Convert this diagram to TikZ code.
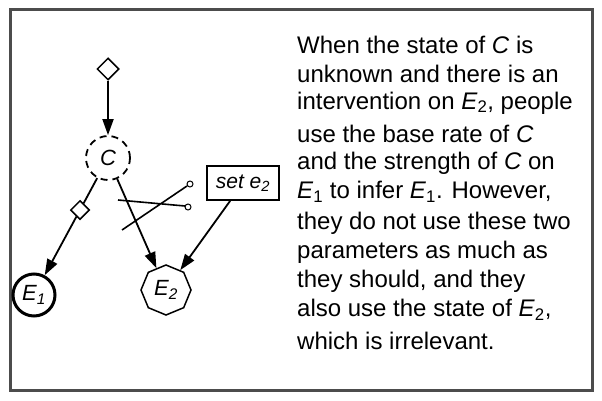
\documentclass[tikz,border=0pt]{standalone}
\usepackage{fontspec}
\setmainfont{Liberation Sans}
\usetikzlibrary{shapes.geometric,arrows.meta}
\begin{document}
\begin{tikzpicture}[x=1pt,y=-1pt,
  arr/.style={-{Triangle[length=16pt,width=11pt]},line width=1.8pt},
  dia/.style={draw,diamond,minimum size=22pt,inner sep=0pt,line width=1.5pt},
  lab/.style={font=\fontsize{22}{24}\selectfont\itshape},
  txt/.style={anchor=west,inner sep=0pt,font=\fontsize{24}{26}\selectfont}]
\useasboundingbox (0,0) rectangle (602,401);
\draw[line width=3pt,gray!60!black] (10,10) rectangle (592,390);
\node[dia] (top) at (108,69) {};
\node[draw,circle,dash pattern=on 7pt off 5pt,line width=1.8pt,minimum size=44pt,inner sep=0pt,lab] (C) at (108,158) {C};
\node[draw,circle,line width=3pt,minimum size=42pt,inner sep=0pt,lab] (E1) at (34,295) {E\textsubscript{1}};
\node[draw,regular polygon,regular polygon sides=8,shape border rotate=22.5,line width=1.5pt,minimum size=50pt,inner sep=0pt,lab] (E2) at (166,290) {E\textsubscript{2}};
\node[draw,line width=1.8pt,minimum width=72pt,minimum height=34pt,inner sep=2pt,lab,font=\fontsize{21}{24}\selectfont\itshape] (set) at (243,183) {set e\textsubscript{2}};
\node[dia,minimum size=19pt] (d2) at (80,210) {};
\draw[line width=1.8pt] (C) -- (d2);
\draw[arr] (top) -- (C);
\draw[arr] (d2) -- (E1);
\draw[arr] (C) -- (E2);
\draw[arr] (set) -- (E2);
% scissors
\coordinate (s1) at (118,200); \coordinate (s2) at (185,206);
\coordinate (s3) at (122,230); \coordinate (s4) at (187,186);
\draw[line width=1.6pt] (s1) -- (s2) (s3) -- (s4);
\draw[line width=1pt,fill=white] (188,207) circle (3pt) (190,184) circle (3pt);
% text
\foreach \y/\t in {33/{When the state of \textit{C} is},
  62/{unknown and there is an},
  91/{intervention on \textit{E}\textsubscript{2}, people},
  122/{use the base rate of \textit{C}},
  151/{and the strength of \textit{C} on},
  180/{\textit{E}\textsubscript{1} to infer \textit{E}\textsubscript{1}. However,},
  211/{they do not use these two},
  240/{parameters as much as},
  269/{they should, and they},
  298/{also use the state of \textit{E}\textsubscript{2},},
  329/{which is irrelevant.}}
  \node[txt] (t\y) at (297,\y+12) {\t};
\end{tikzpicture}
\end{document}
